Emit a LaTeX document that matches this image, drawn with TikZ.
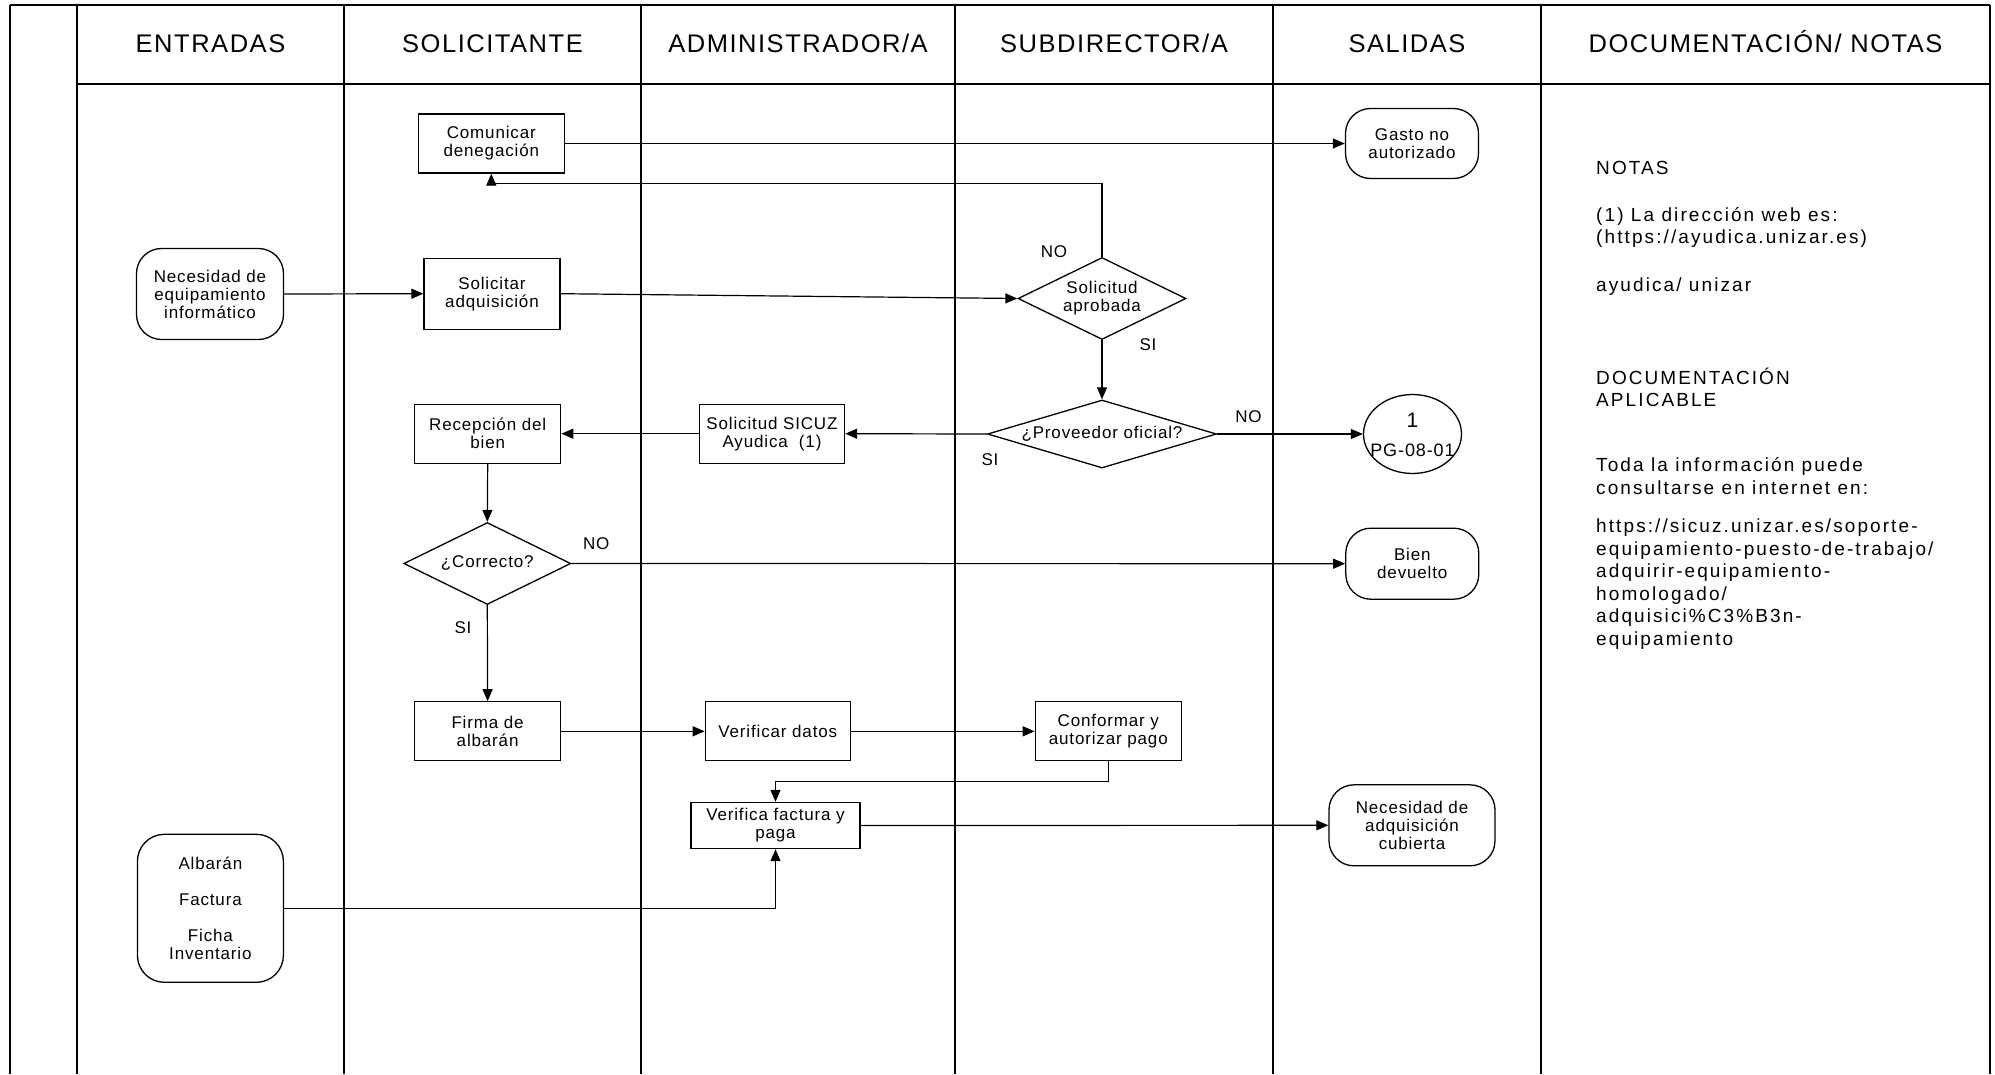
\documentclass[tikz,border=0pt]{standalone}
\usepackage{fontspec}
\setmainfont{Liberation Sans}
\newfontfamily\headfont[LetterSpace=6]{Liberation Sans}
\newfontfamily\nodefont[LetterSpace=5]{Liberation Sans}
\newfontfamily\notefont[LetterSpace=11]{Liberation Sans}
\usetikzlibrary{arrows.meta,shapes.geometric}
\begin{document}
\begin{tikzpicture}[x=1pt,y=-1pt,
  frame/.style={line width=1.7pt},
  proc/.style={draw, line width=1.3pt, rectangle, inner sep=0pt, align=center,
    font=\nodefont\fontsize{17}{18}\selectfont},
  term/.style={proc, rounded corners=25pt},
  decis/.style={draw, line width=1.3pt, diamond, inner sep=0pt, align=center,
    font=\nodefont\fontsize{17}{18}\selectfont},
  arr/.style={line width=1.2pt, -{Triangle[length=12pt,width=10pt]}},
  lbl/.style={font=\nodefont\fontsize{17}{18}\selectfont, inner sep=0pt},
  head/.style={font=\headfont\fontsize{25.5}{28}\selectfont, anchor=base, inner sep=0pt},
  note/.style={font=\notefont\fontsize{19}{22}\selectfont, anchor=base west, inner sep=0pt}
]
\useasboundingbox (0,0) rectangle (1995,1074);
\fill[white] (0,0) rectangle (1995,1074);

% frame
\draw[frame] (10,5) -- (1990,5);
\draw[frame] (77,84) -- (1990,84);
\foreach \x in {10,77,344,641,955,1273,1541,1990} \draw[frame] (\x,5) -- (\x,1074);

% headers
\node[head] (h1) at (210.5,52.3) {ENTRADAS};
\node[head] (h2) at (492.5,52.3) {SOLICITANTE};
\node[head] (h3) at (798,52.3) {ADMINISTRADOR/A};
\node[head] (h4) at (1114,52.3) {SUBDIRECTOR/A};
\node[head] (h5) at (1407,52.3) {SALIDAS};
\node[head] (h6) at (1765.5,52.3) {DOCUMENTACIÓN/ NOTAS};

% nodes
\node[proc, minimum width=146pt, minimum height=59pt] (comm) at (491.3,143.5) {Comunicar\\denegación};
\node[term, minimum width=133pt, minimum height=70pt] (gasto) at (1412,143.5) {Gasto no\\autorizado};
\node[term, minimum width=147pt, minimum height=91pt] (nec) at (210,294) {Necesidad de\\equipamiento\\informático};
\node[proc, minimum width=136pt, minimum height=71pt] (sol) at (492,293.7) {Solicitar\\adquisición};
\node[decis, minimum width=168pt, minimum height=82pt, shape aspect=2.05] (dec1) at (1102,298.5) {Solicitud\\aprobada};
\node[decis, minimum width=229pt, minimum height=68pt, shape aspect=3.37] (dec2) at (1102,434) {¿Proveedor oficial?};
\node[draw, line width=1.3pt, ellipse, minimum width=98pt, minimum height=79pt, inner sep=0pt] (circ) at (1412.5,434) {};
\node[inner sep=0pt, anchor=base, font=\fontsize{21}{22}\selectfont] (circa) at (1412.5,427.5) {1};
\node[inner sep=0pt, anchor=base, font=\nodefont\fontsize{18}{20}\selectfont] (circb) at (1412.5,456) {PG-08-01};
\node[proc, minimum width=146pt, minimum height=59pt] (rec) at (487.7,433.7) {Recepción del\\bien};
\node[proc, minimum width=145pt, minimum height=59pt] (sicuz) at (772,433.7) {Solicitud SICUZ\\Ayudica\ \ (1)};
\node[decis, minimum width=167pt, minimum height=82pt, shape aspect=2.04] (corr) at (487.3,563.5) {¿Correcto?};
\node[term, minimum width=133pt, minimum height=71pt] (bien) at (1412.3,563.7) {Bien\\devuelto};
\node[proc, minimum width=146pt, minimum height=59pt] (firma) at (487.6,731.3) {Firma de\\albarán};
\node[proc, minimum width=145pt, minimum height=59pt] (verd) at (777.8,731.3) {Verificar datos};
\node[proc, minimum width=146pt, minimum height=59pt] (conf) at (1108.3,731.3) {Conformar y\\autorizar pago};
\node[proc, minimum width=169pt, minimum height=46pt] (vfac) at (775.5,825.5) {Verifica factura y\\paga};
\node[term, minimum width=146pt, minimum height=148pt, rounded corners=27pt] (albar) at (210.4,908.3) {Albarán\\[18pt]Factura\\[18pt]Ficha\\Inventario};
\node[term, minimum width=166pt, minimum height=81pt] (necadq) at (1412,825.3) {Necesidad de\\adquisición\\cubierta};

% connectors
\coordinate (k1) at (491.3,183.3);
\coordinate (k2) at (775.5,781.7);
\draw[arr] (comm.east) -- (gasto.west);
\draw[arr] (dec1.north) |- (k1) -- (comm.south);
\draw[arr] (nec.east) -- (sol.west);
\draw[arr] (sol.east) -- (dec1.west);
\draw[arr] (dec1.south) -- (dec2.north);
\draw[arr] (dec2.east) -- (circ.west);
\draw[arr] (dec2.west) -- (sicuz.east);
\draw[arr] (sicuz.west) -- (rec.east);
\draw[arr] (rec.south) -- (corr.north);
\draw[arr] (corr.east) -- (bien.west);
\draw[arr] (corr.south) -- (firma.north);
\draw[arr] (firma.east) -- (verd.west);
\draw[arr] (verd.east) -- (conf.west);
\draw[arr] (conf.south) |- (k2) -- (vfac.north);
\draw[arr] (albar.east) -| (vfac.south);
\draw[arr] (vfac.east) -- (necadq.west);

% labels
\node[lbl] (lno1) at (1054,252) {NO};
\node[lbl] (lsi1) at (1148,345) {SI};
\node[lbl] (lno2) at (1248.5,416.7) {NO};
\node[lbl] (lsi2) at (990,459.3) {SI};
\node[lbl] (lno3) at (596.3,543.3) {NO};
\node[lbl] (lsi3) at (463,627.3) {SI};

% notes
\node[note] (t1) at (1596,174) {NOTAS};
\node[note] (t2) at (1596,221.7) {(1) La dirección web es:};
\node[note] (t3) at (1596,243) {(https://ayudica.unizar.es)};
\node[note] (t4) at (1596,291) {ayudica/ unizar};
\node[note] (t5) at (1596,384) {DOCUMENTACIÓN};
\node[note] (t6) at (1596,406.5) {APLICABLE};
\node[note] (t7) at (1596,471) {Toda la información puede};
\node[note] (t8) at (1596,494) {consultarse en internet en:};
\node[note] (t9) at (1596,532.5) {https://sicuz.unizar.es/soporte-};
\node[note] (t10) at (1596,555) {equipamiento-puesto-de-trabajo/};
\node[note] (t11) at (1596,577.5) {adquirir-equipamiento-};
\node[note] (t12) at (1596,600) {homologado/};
\node[note] (t13) at (1596,622.5) {adquisici\%C3\%B3n-};
\node[note] (t14) at (1596,645) {equipamiento};
\end{tikzpicture}
\end{document}
